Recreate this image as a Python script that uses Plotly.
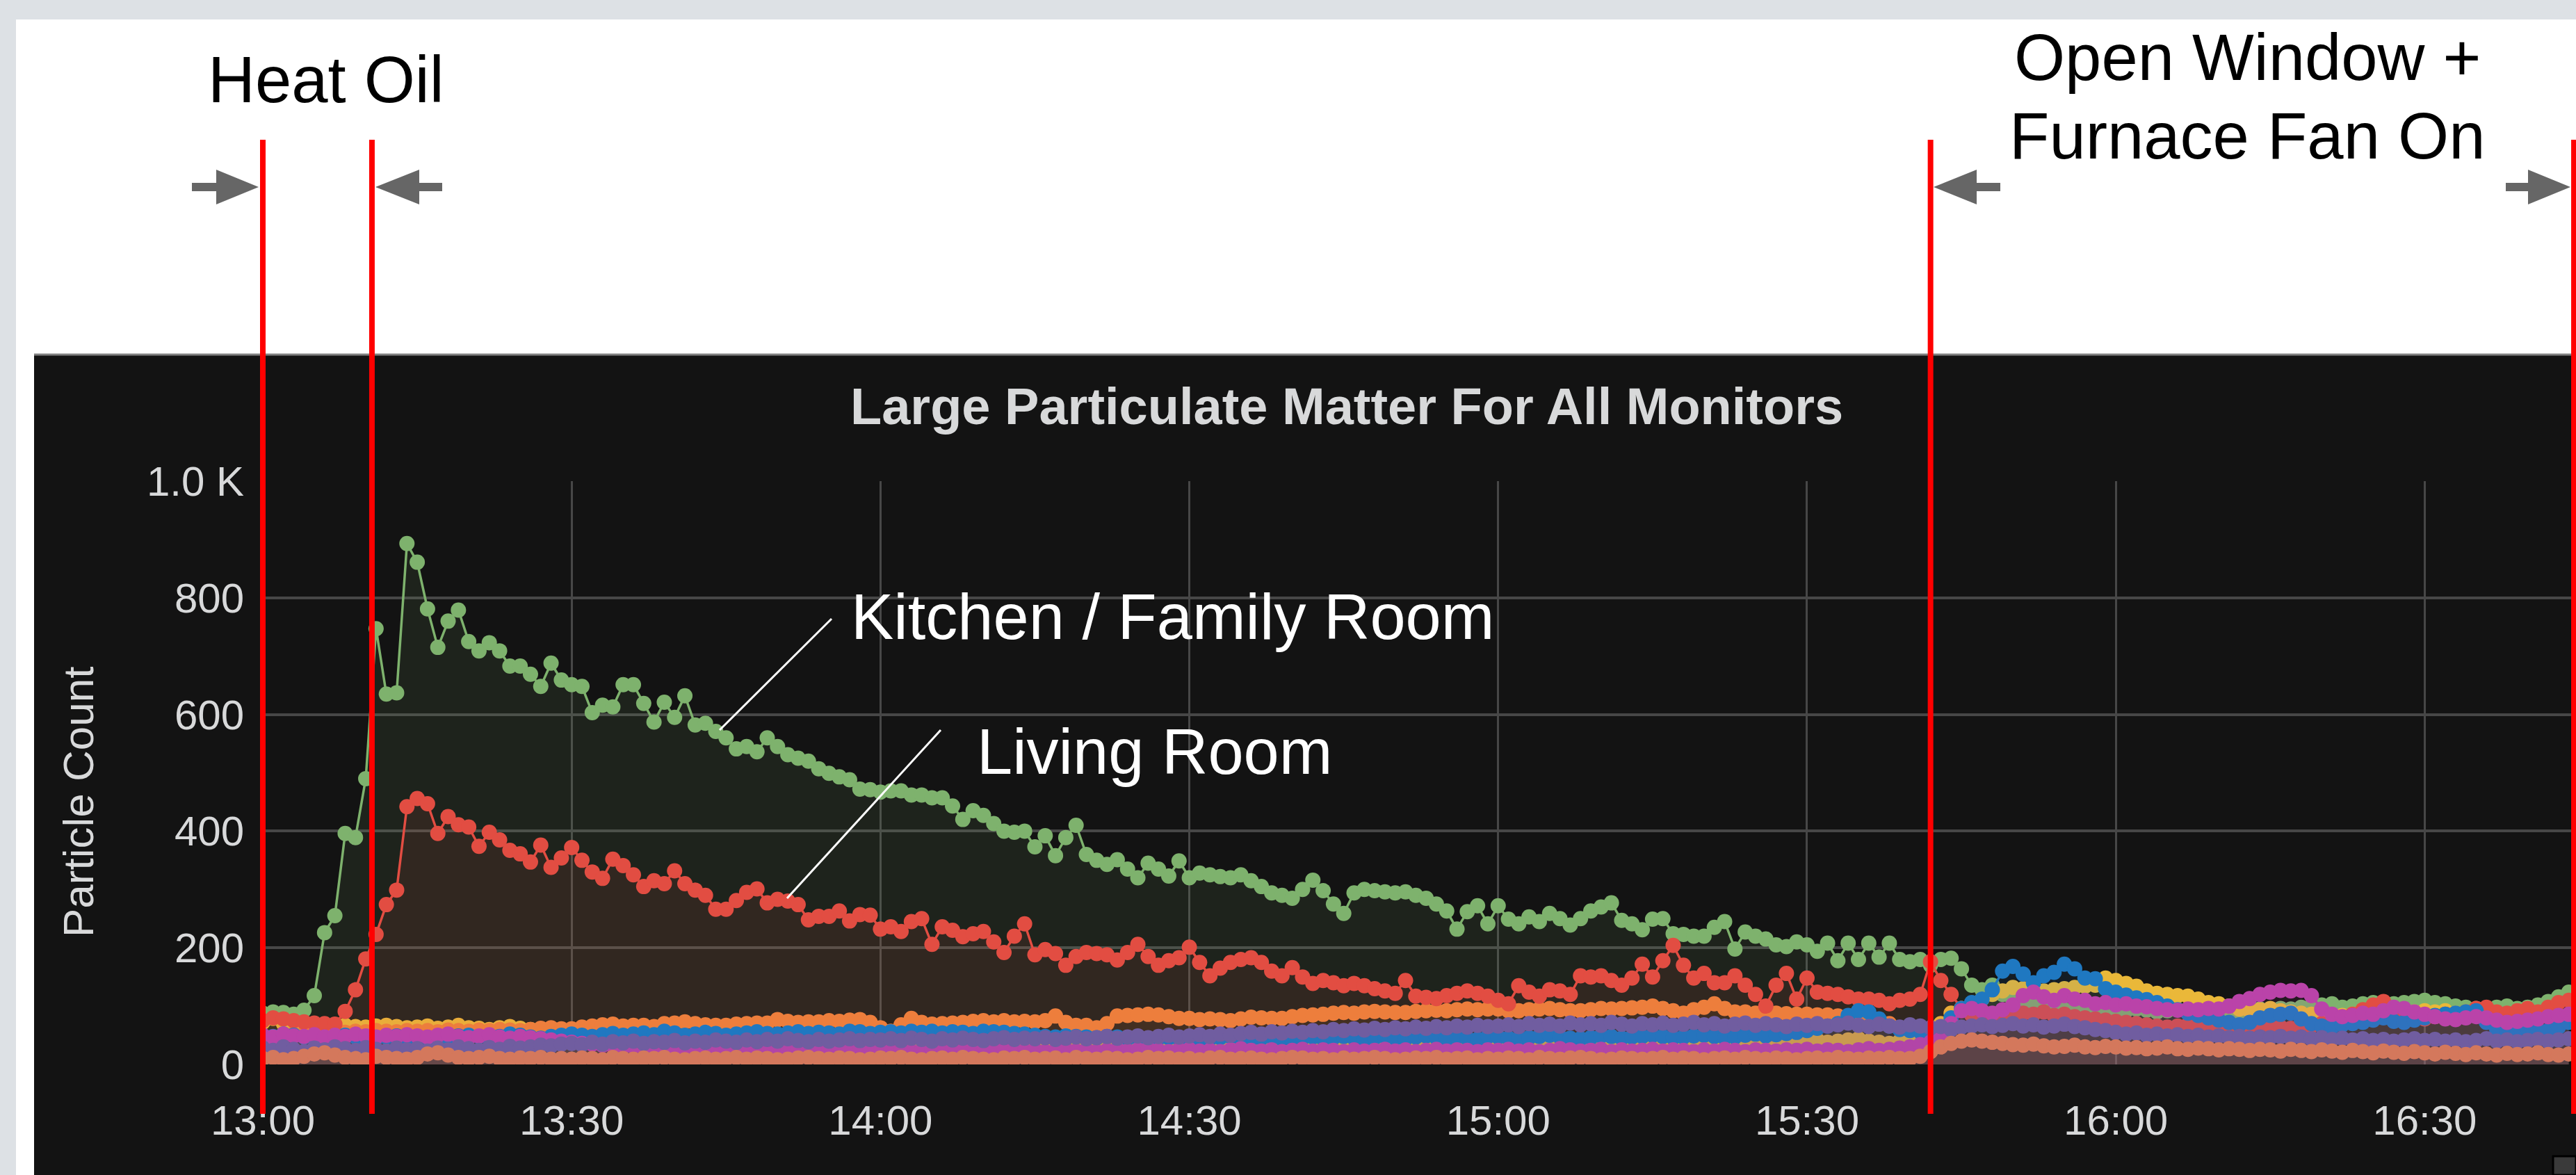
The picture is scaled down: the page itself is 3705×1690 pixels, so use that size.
import pandas as pd
import plotly.graph_objects as go

W, H = 3705, 1690

# ---------------- data (one reading per minute from 13:00) ----------------
START = "2019-12-01 13:00"
STEP = "1min"

kitchen_family_room = [
    88, 90, 89, 86, 93, 118, 226, 255, 396, 389, 490, 747, 635, 637, 893,
    861, 781, 715, 760, 779, 725, 709, 723, 709, 683, 683, 669, 648, 688, 659,
    651, 648, 603, 616, 613, 651, 651, 619, 587, 621, 595, 632, 582, 585, 571,
    560, 541, 545, 536, 560, 545, 531, 525, 520, 507, 499, 493, 488, 472, 471,
    467, 469, 469, 462, 462, 457, 457, 443, 420, 435, 427, 413, 400, 398, 400,
    373, 392, 358, 389, 410, 360, 350, 343, 351, 335, 320, 345, 335, 323, 349,
    320, 328, 325, 322, 320, 325, 315, 305, 294, 290, 285, 300, 316, 298, 275,
    259, 294, 300, 298, 296, 294, 296, 290, 285, 275, 263, 232, 262, 272, 241,
    272, 249, 241, 253, 245, 259, 250, 239, 250, 263, 270, 277, 247, 241, 231,
    249, 250, 224, 223, 220, 220, 235, 245, 198, 227, 220, 215, 205, 202, 210,
    205, 194, 208, 178, 208, 180, 208, 184, 208, 180, 176, 180, 170, 180, 182,
    164, 136, 128, 136, 120, 110, 104, 102, 104, 98, 94, 96, 96, 95, 92,
    90, 92, 95, 93, 90, 92, 94, 92, 90, 93, 92, 94, 90, 92, 95,
    94, 96, 95, 98, 100, 102, 104, 98, 100, 104, 106, 102, 104, 106, 108,
    110, 106, 104, 100, 98, 96, 94, 98, 100, 96, 98, 102, 108, 116, 124,
]

monitor_yellow = [
    72, 79, 70, 66, 64, 62, 63, 66, 67, 65, 64, 66, 67, 65, 63,
    64, 66, 62, 64, 67, 63, 62, 60, 63, 65, 62, 60, 58, 55, 52,
    50, 48, 50, 52, 49, 50, 51, 48, 47, 49, 47, 46, 45, 44, 42,
    43, 42, 41, 40, 41, 40, 39, 38, 40, 38, 37, 38, 36, 38, 37,
    37, 36, 35, 37, 36, 35, 36, 38, 37, 35, 36, 37, 40, 36, 35,
    36, 35, 37, 36, 34, 35, 36, 38, 35, 36, 40, 42, 36, 35, 34,
    36, 35, 34, 36, 38, 40, 36, 35, 36, 37, 39, 38, 36, 38, 40,
    42, 40, 38, 36, 38, 40, 42, 38, 37, 36, 38, 40, 42, 38, 40,
    40, 38, 36, 40, 42, 40, 38, 40, 42, 44, 42, 40, 38, 40, 42,
    40, 42, 44, 40, 38, 40, 42, 40, 38, 40, 42, 44, 42, 40, 38,
    40, 42, 38, 40, 42, 44, 40, 38, 36, 40, 44, 50, 56, 70, 88,
    96, 104, 112, 120, 126, 132, 130, 128, 126, 128, 130, 132, 134, 136, 148,
    144, 139, 134, 126, 122, 120, 118, 117, 112, 106, 104, 100, 95, 92, 94,
    96, 92, 90, 88, 86, 84, 82, 84, 86, 88, 86, 84, 86, 88, 90,
    92, 90, 92, 88, 86, 84, 86, 84, 82, 80, 82, 84, 86, 84, 82,
]

monitor_orange = [
    22, 38, 48, 52, 53, 55, 54, 56, 55, 57, 56, 58, 57, 56, 58,
    57, 58, 56, 59, 58, 57, 59, 58, 60, 59, 58, 60, 62, 63, 61,
    61, 64, 66, 68, 69, 66, 67, 67, 65, 70, 71, 73, 70, 68, 67,
    67, 69, 70, 71, 71, 77, 74, 72, 73, 73, 75, 74, 76, 77, 72,
    63, 57, 68, 79, 72, 69, 70, 71, 72, 74, 75, 73, 75, 73, 74,
    73, 75, 83, 72, 67, 67, 63, 70, 83, 84, 85, 86, 85, 82, 79,
    79, 77, 78, 77, 75, 78, 81, 80, 79, 79, 82, 84, 85, 86, 88,
    89, 88, 90, 91, 90, 89, 89, 91, 92, 93, 92, 94, 95, 94, 95,
    95, 92, 92, 94, 95, 96, 94, 92, 92, 94, 96, 95, 96, 97, 98,
    100, 96, 92, 88, 94, 98, 104, 96, 90, 90, 88, 90, 88, 87, 86,
    86, 85, 85, 83, 81, 80, 78, 74, 70,
]

living_room = [
    75, 80, 78, 75, 73, 71, 70, 69, 91, 128, 181, 223, 274, 299, 442,
    456, 447, 396, 425, 411, 407, 374, 398, 385, 367, 361, 347, 376, 338, 354,
    372, 350, 330, 319, 352, 341, 325, 305, 315, 310, 332, 310, 299, 290, 266,
    266, 281, 295, 301, 277, 283, 280, 274, 248, 254, 254, 263, 246, 257, 256,
    232, 236, 228, 245, 250, 206, 236, 230, 219, 224, 228, 210, 192, 220, 241,
    188, 197, 190, 170, 185, 192, 190, 188, 179, 192, 206, 185, 170, 178, 183,
    201, 175, 152, 165, 175, 180, 183, 175, 160, 152, 166, 150, 139, 144, 140,
    135, 139, 135, 130, 126, 122, 144, 117, 115, 113, 118, 122, 126, 122, 117,
    110, 104, 135, 124, 117, 128, 126, 120, 152, 150, 152, 144, 136, 148, 172,
    150, 178, 204, 170, 148, 156, 140, 140, 152, 136, 120, 100, 136, 156, 112,
    148, 124, 122, 120, 116, 112, 112, 110, 104, 110, 112, 120, 176, 144, 120,
    96, 85, 80, 82, 86, 84, 88, 86, 90, 84, 86, 82, 80, 78, 76,
    74, 72, 70, 68, 66, 64, 66, 68, 62, 64, 66, 64, 62, 66, 68,
    66, 64, 62, 64, 66, 70, 74, 78, 86, 94, 102, 108, 96, 86, 80,
    78, 82, 86, 84, 90, 96, 98, 90, 88, 92, 96, 90, 98, 106, 110,
]

monitor_blue = [
    45, 48, 52, 50, 47, 46, 44, 48, 50, 47, 46, 45, 47, 49, 46,
    48, 46, 45, 47, 49, 50, 48, 46, 48, 52, 50, 47, 45, 48, 50,
    52, 50, 48, 51, 53, 50, 52, 54, 51, 57, 54, 50, 52, 55, 53,
    50, 52, 54, 56, 53, 52, 54, 56, 53, 55, 54, 52, 57, 56, 53,
    55, 56, 54, 57, 55, 57, 54, 56, 55, 53, 57, 56, 55, 53, 52,
    50, 48, 47, 49, 48, 47, 46, 48, 47, 45, 46, 44, 45, 46, 44,
    45, 43, 44, 46, 48, 44, 43, 45, 47, 44, 42, 45, 47, 44, 46,
    48, 45, 43, 46, 48, 45, 44, 47, 49, 46, 44, 47, 45, 43, 48,
    47, 45, 44, 46, 48, 50, 47, 45, 44, 46, 49, 48, 45, 47, 48,
    50, 48, 46, 47, 49, 50, 48, 46, 47, 50, 52, 49, 51, 53, 55,
    58, 62, 66, 70, 84, 92, 90, 78, 66, 60, 58, 56, 54, 62, 80,
    96, 106, 112, 128, 160, 168, 155, 140, 152, 158, 172, 164, 148, 147, 130,
    124, 119, 114, 111, 106, 100, 94, 88, 84, 80, 76, 72, 68, 72, 80,
    84, 86, 88, 78, 70, 66, 64, 68, 70, 72, 76, 80, 74, 72, 76,
    80, 84, 86, 88, 90, 92, 72, 60, 56, 60, 62, 60, 58, 64, 72,
]

monitor_magenta = [
    50, 47, 52, 49, 48, 51, 47, 50, 48, 52, 49, 47, 50, 48, 51,
    49, 47, 50, 52, 48, 46, 49, 51, 47, 45, 48, 46, 44, 42, 40,
    38, 36, 35, 33, 32, 30, 31, 29, 30, 28, 27, 29, 28, 26, 27,
    25, 27, 26, 28, 25, 24, 26, 27, 25, 24, 26, 25, 27, 24, 25,
    24, 26, 25, 22, 24, 26, 23, 25, 27, 24, 22, 25, 26, 24, 23,
    25, 22, 24, 26, 23, 25, 22, 24, 26, 23, 25, 27, 24, 22, 25,
    26, 23, 24, 22, 25, 27, 24, 23, 25, 22, 24, 26, 23, 25, 24,
    22, 25, 23, 24, 26, 23, 25, 22, 24, 26, 23, 25, 24, 22, 25,
    24, 26, 23, 25, 22, 24, 27, 25, 23, 24, 26, 22, 25, 23, 24,
    26, 23, 25, 24, 22, 25, 23, 26, 24, 22, 25, 24, 23, 25, 24,
    26, 23, 25, 24, 22, 25, 27, 24, 26, 28, 30, 34, 38, 50, 70,
    92, 96, 92, 88, 94, 102, 118, 124, 116, 110, 118, 112, 110, 104, 106,
    102, 104, 100, 99, 96, 94, 93, 95, 94, 96, 95, 100, 108, 113, 120,
    124, 127, 126, 127, 118, 95, 86, 82, 84, 88, 86, 92, 98, 96, 90,
    86, 82, 78, 77, 80, 82, 80, 76, 72, 74, 76, 78, 82, 84, 86,
]

monitor_violet = [
    28, 24, 30, 26, 22, 28, 25, 30, 27, 24, 29, 26, 23, 28, 25,
    27, 23, 28, 25, 30, 27, 24, 29, 26, 31, 28, 30, 33, 32, 35,
    36, 34, 38, 35, 39, 37, 40, 36, 39, 38, 41, 37, 40, 38, 42,
    40, 38, 42, 39, 43, 40, 44, 41, 39, 43, 40, 42, 44, 41, 43,
    42, 44, 41, 45, 43, 40, 44, 42, 45, 43, 41, 44, 46, 43, 45,
    44, 46, 43, 45, 47, 44, 46, 48, 45, 47, 49, 46, 48, 50, 47,
    49, 51, 48, 52, 50, 53, 55, 52, 56, 54, 57, 55, 58, 56, 60,
    58, 61, 59, 62, 60, 63, 61, 64, 62, 65, 63, 66, 64, 67, 65,
    66, 68, 65, 70, 67, 69, 66, 71, 68, 70, 67, 72, 69, 66, 70,
    68, 71, 67, 69, 72, 68, 70, 66, 69, 71, 67, 70, 68, 65, 69,
    67, 70, 66, 68, 71, 67, 65, 69, 66, 64, 68, 66, 63, 65, 60,
    64, 66, 68, 65, 67, 70, 66, 68, 64, 66, 69, 65, 63, 60, 58,
    55, 52, 54, 50, 52, 49, 51, 48, 50, 47, 49, 46, 48, 45, 47,
    46, 48, 45, 47, 44, 46, 43, 45, 42, 44, 41, 43, 40, 42, 44,
    41, 43, 40, 42, 39, 41, 44, 40, 42, 39, 41, 43, 40, 42, 44,
]

monitor_coral = [
    10, 12, 8, 10, 14, 18, 20, 16, 12, 10, 8, 14, 12, 10, 9,
    12, 18, 20, 16, 12, 10, 12, 14, 10, 9, 11, 10, 12, 9, 10,
    9, 11, 10, 8, 12, 10, 9, 11, 10, 12, 9, 8, 10, 11, 9,
    10, 12, 9, 11, 10, 8, 9, 11, 12, 10, 9, 11, 10, 8, 9,
    11, 10, 12, 9, 8, 10, 11, 9, 12, 10, 9, 8, 11, 10, 12,
    9, 10, 11, 8, 12, 10, 9, 11, 10, 8, 9, 12, 10, 11, 9,
    10, 8, 11, 12, 9, 10, 11, 9, 8, 10, 12, 11, 9, 10, 8,
    11, 9, 10, 12, 10, 8, 9, 11, 10, 12, 9, 10, 11, 8, 10,
    9, 11, 10, 8, 12, 10, 9, 11, 12, 10, 8, 9, 11, 10, 9,
    10, 12, 9, 11, 10, 8, 10, 11, 9, 12, 10, 9, 11, 10, 8,
    10, 11, 9, 12, 10, 9, 11, 10, 12, 10, 10, 14, 22, 30, 36,
    40, 42, 40, 38, 36, 34, 33, 35, 32, 30, 31, 33, 30, 29, 31,
    30, 28, 29, 27, 28, 30, 27, 26, 28, 27, 25, 27, 26, 24, 26,
    25, 23, 26, 24, 22, 25, 23, 21, 24, 22, 20, 23, 21, 19, 22,
    20, 18, 21, 19, 17, 20, 18, 16, 19, 17, 18, 20, 17, 16, 18,
]

series_names = ["Kitchen / Family Room", "Monitor 2", "Monitor 3", "Living Room",
                "Monitor 5", "Monitor 6", "Monitor 7", "Monitor 8"]
series_values = [kitchen_family_room, monitor_yellow, monitor_orange, living_room,
                 monitor_blue, monitor_magenta, monitor_violet, monitor_coral]
series_colors = ["#7EB26D", "#EAB839", "#EF843C", "#E24D42",
                 "#1F78C1", "#BA43A9", "#705DA0", "#D4785C"]

y_tick_vals = [0, 200, 400, 600, 800, 1000]
y_tick_text = ["0", "200", "400", "600", "800", "1.0 K"]

event_times = ["2019-12-01 13:00:00", "2019-12-01 13:10:36",
               "2019-12-01 15:42:00", "2019-12-01 16:44:30"]

X_START = "2019-12-01 13:00:00"
X_END = "2019-12-01 16:44:42"

# ---------------- helpers for layout decoration (page pixels -> paper) -------
def PX(x):
    return x / W


def PY(y):
    return 1 - y / H


PLOT_L, PLOT_R, PLOT_T, PLOT_B = 378, 3705, 692, 1531
X_DOMAIN = [PX(PLOT_L), PX(PLOT_R)]


def time_to_paper(ts):
    t0, t1 = pd.Timestamp(X_START), pd.Timestamp(X_END)
    frac = (pd.Timestamp(ts) - t0) / (t1 - t0)
    return X_DOMAIN[0] + frac * (X_DOMAIN[1] - X_DOMAIN[0])


def rgba(hexc, a):
    h = hexc.lstrip("#")
    r, g, b = int(h[0:2], 16), int(h[2:4], 16), int(h[4:6], 16)
    return f"rgba({r},{g},{b},{a})"


FONT = "Liberation Sans, Arial, Helvetica, sans-serif"
TXT = "#d8d9da"

fig = go.Figure()
for name, vals, col in zip(series_names, series_values, series_colors):
    t = pd.date_range(START, periods=len(vals), freq=STEP)
    fig.add_trace(go.Scatter(
        x=t, y=vals, name=name, mode="lines+markers",
        line=dict(color=col, width=3.5),
        marker=dict(color=col, size=22, line=dict(width=0)),
        fill="tozeroy", fillcolor=rgba(col, 0.1),
        showlegend=False,
    ))

shapes = [
    # white page panel
    dict(type="rect", xref="paper", yref="paper", x0=PX(23), x1=1.0, y0=0, y1=PY(28),
         fillcolor="#ffffff", line=dict(width=0), layer="below"),
    # dark grafana panel
    dict(type="rect", xref="paper", yref="paper", x0=PX(49), x1=1.0, y0=0, y1=PY(510),
         fillcolor="#131313", line=dict(width=0), layer="below"),
    dict(type="line", xref="paper", yref="paper", x0=PX(49), x1=1.0, y0=PY(510), y1=PY(510),
         line=dict(color="#808080", width=3), layer="below"),
    # small resize handle bottom-right
    dict(type="rect", xref="paper", yref="paper", x0=PX(3672), x1=1.0, y0=0, y1=PY(1663),
         fillcolor="#3a3a3a", line=dict(color="#000000", width=3), layer="above"),
]

# event markers (red vertical lines)
for et in event_times:
    xp = time_to_paper(et)
    shapes.append(dict(type="line", xref="paper", yref="paper", x0=xp, x1=xp,
                       y0=PY(1602), y1=PY(201),
                       line=dict(color="#ff0000", width=8), layer="above"))


def arrow(tip_x, base_x, shaft_end_x, yc, half_head=25, half_shaft=6):
    pts = [(tip_x, yc), (base_x, yc - half_head), (base_x, yc - half_shaft),
           (shaft_end_x, yc - half_shaft), (shaft_end_x, yc + half_shaft),
           (base_x, yc + half_shaft), (base_x, yc + half_head)]
    path = "M " + " L ".join(f"{PX(x):.6f},{PY(y):.6f}" for x, y in pts) + " Z"
    return dict(type="path", xref="paper", yref="paper", path=path,
                fillcolor="#666666", line=dict(width=0), layer="above")


AY = 269
shapes += [
    arrow(372, 311, 276, AY),
    arrow(540, 603, 636, AY),
    arrow(2781, 2843, 2877, AY),
    arrow(3697, 3636, 3604, AY),
]

# leader lines for the room labels
shapes += [
    dict(type="line", xref="paper", yref="paper", x0=PX(1196), y0=PY(890), x1=PX(1035), y1=PY(1050),
         line=dict(color="#ffffff", width=3), layer="above"),
    dict(type="line", xref="paper", yref="paper", x0=PX(1353), y0=PY(1050), x1=PX(1132), y1=PY(1292),
         line=dict(color="#ffffff", width=3), layer="above"),
]

annotations = [
    dict(text="Large Particulate Matter For All Monitors", x=PX(1937), y=PY(584),
         xref="paper", yref="paper", xanchor="center", yanchor="middle", showarrow=False,
         font=dict(family=FONT, size=74, color=TXT, weight="bold")),
    dict(text="Particle Count", x=PX(112), y=PY(1154), xref="paper", yref="paper",
         xanchor="center", yanchor="middle", showarrow=False, textangle=-90,
         font=dict(family=FONT, size=62, color=TXT)),
    dict(text="Heat Oil", x=PX(469), y=PY(114), xref="paper", yref="paper",
         xanchor="center", yanchor="middle", showarrow=False,
         font=dict(family=FONT, size=94, color="#000000")),
    dict(text="Open Window +", x=PX(3232), y=PY(83), xref="paper", yref="paper",
         xanchor="center", yanchor="middle", showarrow=False,
         font=dict(family=FONT, size=94, color="#000000")),
    dict(text="Furnace Fan On", x=PX(3232), y=PY(195), xref="paper", yref="paper",
         xanchor="center", yanchor="middle", showarrow=False,
         font=dict(family=FONT, size=94, color="#000000")),
    dict(text="Kitchen / Family Room", x=PX(1222), y=PY(887), xref="paper", yref="paper",
         xanchor="left", yanchor="middle", showarrow=False,
         font=dict(family=FONT, size=92, color="#ffffff")),
    dict(text="Living Room", x=PX(1403), y=PY(1081), xref="paper", yref="paper",
         xanchor="left", yanchor="middle", showarrow=False,
         font=dict(family=FONT, size=92, color="#ffffff")),
]

fig.update_layout(
    template="none",
    width=W, height=H, autosize=False,
    margin=dict(l=0, r=0, t=0, b=0, pad=0, autoexpand=False),
    paper_bgcolor="#dde1e5",
    plot_bgcolor="rgba(0,0,0,0)",
    showlegend=False,
    hovermode=False,
    shapes=shapes,
    annotations=annotations,
    font=dict(family=FONT, color=TXT),
    xaxis=dict(
        type="date", domain=X_DOMAIN, range=[X_START, X_END], automargin=False,
        tickformat="%H:%M", dtick=30 * 60 * 1000, tick0=X_START,
        showgrid=True, gridcolor="#474747", gridwidth=3,
        zeroline=False, showline=False, ticks="",
        tickfont=dict(family=FONT, size=60, color=TXT),
        ticklabelstandoff=40,
    ),
    yaxis=dict(
        domain=[PY(PLOT_B), PY(PLOT_T)], range=[0, 1000], automargin=False,
        tickvals=y_tick_vals, ticktext=y_tick_text,
        showgrid=True, gridcolor="#474747", gridwidth=4,
        zeroline=False, showline=False, ticks="",
        tickfont=dict(family=FONT, size=60, color=TXT),
        ticklabelstandoff=26,
    ),
)

fig.write_html("out.html", config={"displayModeBar": False},
               post_script="document.body.style.margin='0px';document.body.style.overflow='hidden';")
